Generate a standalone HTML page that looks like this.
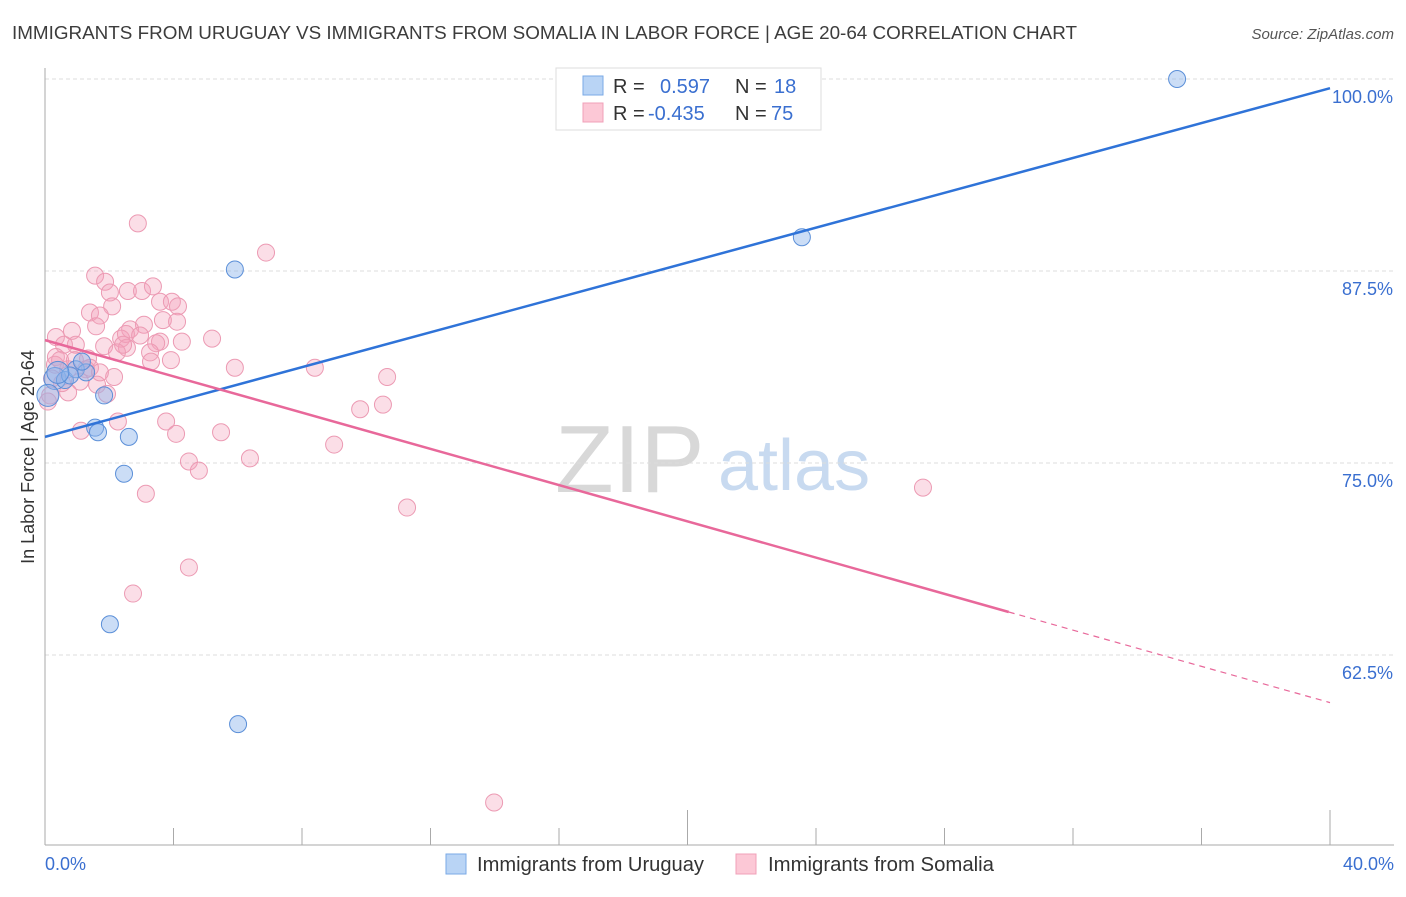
<!DOCTYPE html>
<html><head><meta charset="utf-8"><style>
body{margin:0;background:#fff;font-family:"Liberation Sans",sans-serif;}
svg text{font-family:"Liberation Sans",sans-serif;}
</style></head><body>
<svg id="chart" width="1406" height="892" xmlns="http://www.w3.org/2000/svg">
<text x="12" y="39" font-size="18.5" fill="#3c3c3c" textLength="1065" lengthAdjust="spacingAndGlyphs">IMMIGRANTS FROM URUGUAY VS IMMIGRANTS FROM SOMALIA IN LABOR FORCE | AGE 20-64 CORRELATION CHART</text>
<text x="1394" y="39" font-size="15" fill="#555" text-anchor="end" font-style="italic">Source: ZipAtlas.com</text>
<g>
<text x="555" y="492" font-size="96" fill="#d8d8d8" font-family="Liberation Serif, serif">ZIP</text>
<text x="718" y="490" font-size="72" fill="#c8daf0">atlas</text>
</g>
<g id="grid"></g>
<g id="axes"></g>
<g id="marks"></g>
<text transform="translate(34,457) rotate(-90)" font-size="18" fill="#333" text-anchor="middle">In Labor Force | Age 20-64</text>
<g>
<rect x="556" y="68" width="265" height="62" fill="#fff" stroke="#ddd"/>
<rect x="583" y="76" width="20" height="19" fill="#b9d4f5" stroke="#7aaae6"/>
<rect x="583" y="103" width="20" height="19" fill="#fcc8d6" stroke="#f0a0b8"/>
<text x="613" y="93" font-size="20" fill="#333">R =</text>
<text x="660" y="93" font-size="20" fill="#3a6fd0">0.597</text>
<text x="735" y="93" font-size="20" fill="#333">N =</text>
<text x="774" y="93" font-size="20" fill="#3a6fd0">18</text>
<text x="613" y="120" font-size="20" fill="#333">R =</text>
<text x="648" y="120" font-size="20" fill="#3a6fd0">-0.435</text>
<text x="735" y="120" font-size="20" fill="#333">N =</text>
<text x="771" y="120" font-size="20" fill="#3a6fd0">75</text>
</g>
<g>
<rect x="446" y="854" width="20" height="20" fill="#b9d4f5" stroke="#7aaae6"/>
<text x="477" y="871" font-size="20" fill="#333" textLength="227" lengthAdjust="spacingAndGlyphs">Immigrants from Uruguay</text>
<rect x="736" y="854" width="20" height="20" fill="#fcc8d6" stroke="#f0a0b8"/>
<text x="768" y="871" font-size="20" fill="#333" textLength="226" lengthAdjust="spacingAndGlyphs">Immigrants from Somalia</text>
</g>
</svg>
<script>
const yTicks=[62.5,75,87.5,100];
const yTickLabels=["62.5%","75.0%","87.5%","100.0%"];
const xTickLabels=["0.0%","40.0%"];
const pinkX=[2.89,6.88,1.56,1.87,2.02,2.58,3.02,3.36,3.58,3.95,4.14,2.09,1.40,1.71,3.67,4.11,1.59,3.08,2.65,0.84,0.34,5.20,2.37,2.52,3.58,3.46,4.26,0.96,0.59,1.84,2.55,3.27,2.24,0.34,1.34,3.30,3.92,5.91,8.40,0.31,0.72,1.28,1.09,2.15,1.62,10.65,9.81,10.52,1.93,0.72,3.77,2.27,1.12,4.08,5.48,9.00,6.38,4.48,4.79,3.14,11.27,27.33,4.48,2.74,13.98,0.16,0.09,0.47,0.22,0.93,1.40,1.71,2.96,2.43,0.53];
const pinkY=[90.6,88.7,87.2,86.8,86.1,86.2,86.2,86.5,85.5,85.5,85.2,85.2,84.8,84.6,84.3,84.2,83.9,84.0,83.7,83.6,83.2,83.1,83.1,83.4,82.9,82.8,82.9,82.7,82.7,82.6,82.5,82.2,82.2,81.9,81.8,81.6,81.7,81.2,81.2,81.4,81.1,81.1,80.3,80.6,80.1,80.6,78.5,78.8,79.5,79.6,77.7,77.7,77.1,76.9,77.0,76.2,75.3,75.1,74.5,73.0,72.1,73.4,68.2,66.5,52.9,79.4,79.0,81.7,80.5,81.7,81.2,80.9,83.3,82.7,80.2];
const blueX=[35.24,23.56,5.91,0.31,0.62,0.96,1.28,1.15,1.84,1.56,1.65,2.61,2.46,2.02,6.01,0.09,0.78,0.40];
const blueY=[100,89.7,87.6,80.5,80.4,81.1,80.9,81.6,79.4,77.3,77.0,76.7,74.3,64.5,58.0,79.4,80.7,80.9];
const blueTrend=[76.7,99.4];
const pinkTrend=[83.0,59.4];
const pinkSolidEnd=30.0;

const NS="http://www.w3.org/2000/svg";
const X=v=>45+v*(1285/40);
const Y=v=>79+(100-v)*15.36;
function mk(t,a,p){const e=document.createElementNS(NS,t);for(const k in a)e.setAttribute(k,a[k]);p.appendChild(e);return e;}
const grid=document.getElementById('grid'),axes=document.getElementById('axes'),marks=document.getElementById('marks');
yTicks.forEach((v,i)=>{
 const l=mk('line',{x1:45,x2:1394,y1:Y(v),y2:Y(v),stroke:'#ddd','stroke-dasharray':'4,3'},grid);
 
 
 const t=mk('text',{x:1393,y:Y(v)+24,'font-size':18,fill:'#3a6fd0','text-anchor':'end'},axes);
 t.textContent=yTickLabels[i];
 
 
});
mk('line',{x1:45,x2:45,y1:68,y2:845,stroke:'#aaa'},axes);
mk('line',{x1:45,x2:1394,y1:845,y2:845,stroke:'#aaa'},axes);
for(let i=0;i<=10;i++){
 const v=i*4;const tall=(i==5||i==10);
 const tk=mk('line',{x1:X(v),x2:X(v),y1:tall?810:828,y2:845,stroke:'#aaa'},axes);
 
 
}
[[0,'start',45],[1,'end',1394]].forEach(([i,a,x])=>{
 const t=mk('text',{x:x,y:870,'font-size':18,fill:'#3a6fd0','text-anchor':a},axes);
 t.textContent=xTickLabels[i];
 
 
});
pinkX.forEach((v,i)=>{
 const c=mk('circle',{cx:X(v),cy:Y(pinkY[i]),r:8.5,fill:'rgba(244,160,185,0.35)',stroke:'#ec9ab3','stroke-width':1},marks);
 
 
});
blueX.forEach((v,i)=>{
 const c=mk('circle',{cx:X(v),cy:Y(blueY[i]),r:v<0.5?11:8.5,fill:'rgba(140,180,235,0.45)',stroke:'#5b8fd8','stroke-width':1},marks);
 
 
});
const bl=mk('line',{x1:X(0),y1:Y(blueTrend[0]),x2:X(40),y2:Y(blueTrend[1]),stroke:'#2f73d8','stroke-width':2.5},marks);


const py=x=>pinkTrend[0]+(pinkTrend[1]-pinkTrend[0])*x/40;
const pl=mk('line',{x1:X(0),y1:Y(pinkTrend[0]),x2:X(pinkSolidEnd),y2:Y(py(pinkSolidEnd)),stroke:'#e8689a','stroke-width':2.5},marks);


const pd=mk('line',{x1:X(pinkSolidEnd),y1:Y(py(pinkSolidEnd)),x2:X(40),y2:Y(pinkTrend[1]),stroke:'#e8689a','stroke-width':1.2,'stroke-dasharray':'6,5'},marks);


</script>
</body></html>
